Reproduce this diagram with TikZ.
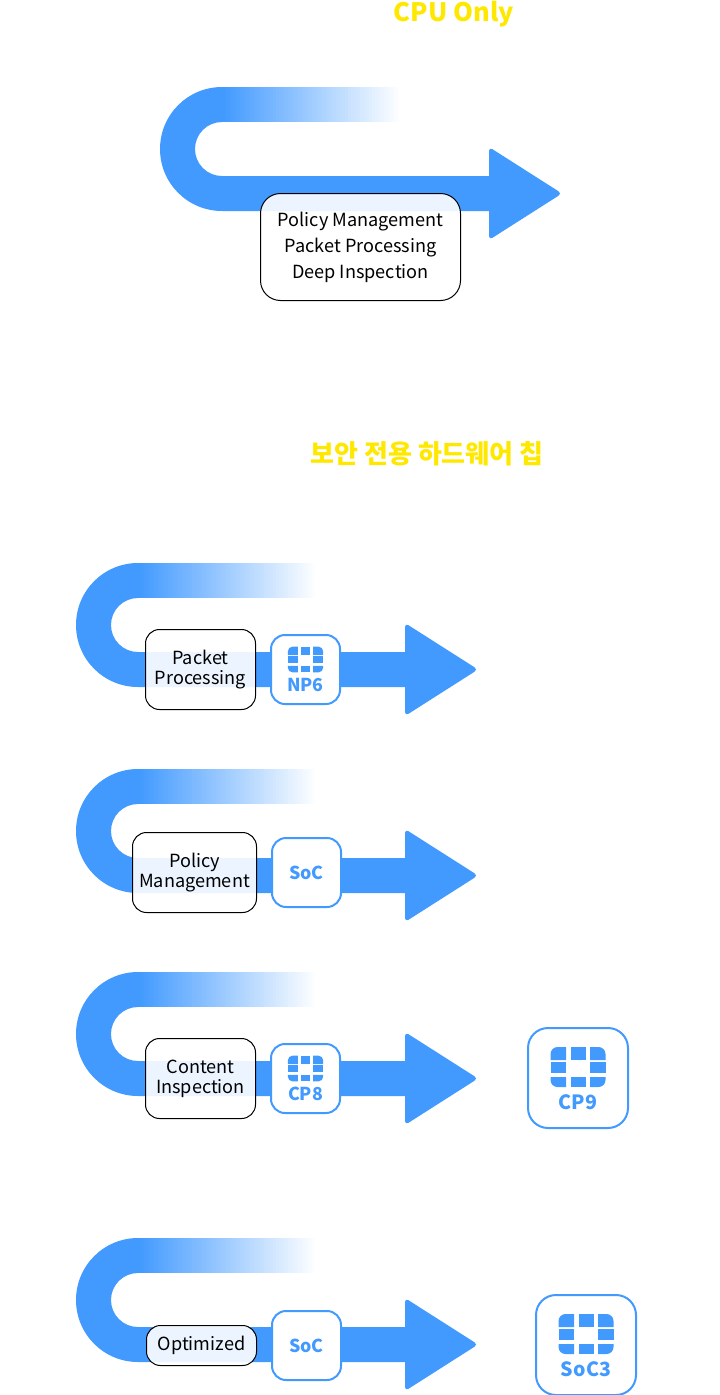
\documentclass[tikz,border=0pt]{standalone}
\usepackage{fontspec}
\setmainfont{Noto Sans CJK KR}
\usepackage{tikz}
\usetikzlibrary{positioning,calc}
\definecolor{flowblue}{HTML}{429AFF}
\definecolor{titleyellow}{HTML}{FFE800}
\tikzset{
  task/.style={draw=black,line width=1pt,rounded corners=14pt,fill=white,fill opacity=0.9,text opacity=1,align=center,inner sep=0pt,font=\fontsize{18.1}{20}\selectfont},
  chip/.style={draw=flowblue,line width=2pt,rounded corners=14pt,fill=white,minimum width=69pt,minimum height=69pt,inner sep=0pt,text=flowblue,font=\fontsize{17.8}{20}\selectfont\bfseries},
  bigchip/.style={chip,rounded corners=20pt,minimum width=100pt,minimum height=100pt},
  title/.style={text=titleyellow,inner sep=0pt,font=\fontsize{25.4}{30}\selectfont\bfseries},
  chiptext/.style={text=flowblue,inner sep=0pt,font=\fontsize{17.8}{20}\selectfont\bfseries},
  bigtext/.style={chiptext,font=\fontsize{19.6}{22}\selectfont\bfseries},
  chipicon/.pic={
    \fill[flowblue] (-27.5,-7) -- (-27.5,-13) arc (180:270:7) -- (-12,-20) -- (-12,-7) -- cycle;
    \fill[flowblue] (-7.5,-20) rectangle (7.5,-7);
    \fill[flowblue] (27.5,-7) -- (27.5,-13) arc (0:-90:7) -- (12,-20) -- (12,-7) -- cycle;
    \fill[flowblue] (-27.5,-5) rectangle (-12,6);
    \fill[flowblue] (12,-5) rectangle (27.5,6);
    \fill[flowblue] (-27.5,10) -- (-27.5,13) arc (180:90:7) -- (-12,20) -- (-12,10) -- cycle;
    \fill[flowblue] (-7.5,10) rectangle (7.5,20);
    \fill[flowblue] (27.5,10) -- (27.5,13) arc (0:90:7) -- (12,20) -- (12,10) -- cycle;
  }
}
\newcommand{\flowarrow}[2]{
  \begin{scope}[shift={(#1,#2)}]
    \fill[flowblue] (62,0) arc (270:90:62) -- (332,124) -- (332,89) -- (62,89) arc (90:270:27) -- cycle;
    \foreach \i in {0,...,59} {
      \pgfmathsetmacro{\mix}{100-\i*100/59}
      \fill[flowblue!\mix!white] ({62+\i*3},0) rectangle ({65.5+\i*3},35);
    }
    \fill[flowblue,rounded corners=4pt] (329,60) -- (402,106.5) -- (329,153) -- cycle;
  \end{scope}
}

\begin{document}
\begin{tikzpicture}[x=1pt,y=-1pt]
  \useasboundingbox (0,0) rectangle (720,1395);

  \node[title,anchor=base] (cpu) at (454,21) {CPU Only};
  \node[title,font=\fontsize{26}{30}\selectfont\bfseries] (hw) at (427,454) {보안 전용 하드웨어 칩};

  \flowarrow{160}{87}
  \flowarrow{76}{563}
  \flowarrow{76}{769}
  \flowarrow{76}{972}
  \flowarrow{76}{1238}

  \node[task,minimum width=200pt,minimum height=107pt,rounded corners=20pt,font=\fontsize{18.1}{26}\selectfont] (all) at (360.5,247) {Policy Management\\Packet Processing\\Deep Inspection};

  \node[task,minimum width=110pt,minimum height=80pt] (packet) at (200.5,669.5) {Packet\\Processing};
  \node[chip,right=14pt of packet] (np6) {};
  \node[chiptext] (np6t) at ([yshift=-15.5pt]np6.center) {NP6};
  \pic[scale=0.64] at ([yshift=10pt]np6.center) {chipicon};

  \node[task,minimum width=124pt,minimum height=80pt] (policy) at (194.5,872.5) {Policy\\Management};
  \node[chip,right=14pt of policy] (soc1) {SoC};

  \node[task,minimum width=110pt,minimum height=80pt] (content) at (200.5,1078.5) {Content\\Inspection};
  \node[chip,right=14pt of content] (cp8) {};
  \node[chiptext] (cp8t) at ([yshift=-15.5pt]cp8.center) {CP8};
  \pic[scale=0.64] at ([yshift=10pt]cp8.center) {chipicon};
  \node[bigchip] (cp9) at (578,1078) {};
  \node[bigtext] (cp9t) at ([yshift=-24pt]cp9.center) {CP9};
  \pic at ([yshift=11pt]cp9.center) {chipicon};

  \node[task,minimum width=110pt,minimum height=40pt] (opt) at (201.5,1345.5) {Optimized};
  \node[chip,right=14pt of opt] (soc2) {SoC};
  \node[bigchip] (soc3) at (586,1345) {};
  \node[bigtext] (soc3t) at ([yshift=-24pt]soc3.center) {SoC3};
  \pic at ([yshift=11pt]soc3.center) {chipicon};
\end{tikzpicture}
\end{document}
